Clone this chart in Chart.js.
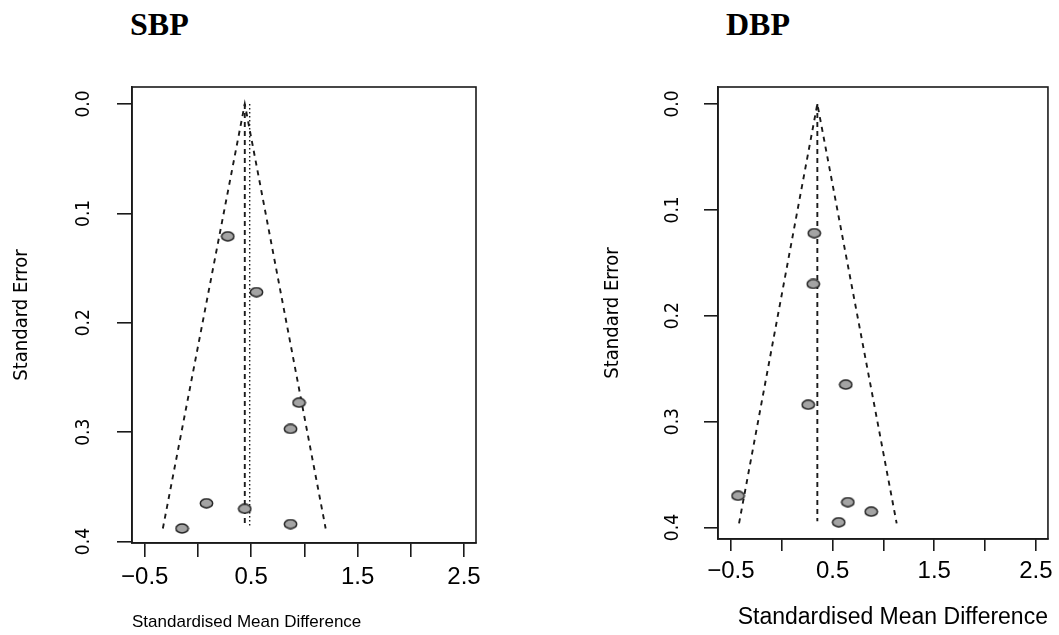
<!DOCTYPE html>
<html>
<head>
<meta charset="utf-8">
<script src="https://cdn.jsdelivr.net/npm/chart.js@4.4.1/dist/chart.umd.min.js"></script>
<style>
  html, body { margin:0; padding:0; background:#fff; }
  body { width:1059px; height:635px; position:relative; overflow:hidden; }
  canvas { position:absolute; top:0; }
  .ttl { position:absolute; font-family:'Liberation Serif','Times New Roman',serif; font-weight:bold; font-size:32px; line-height:32px; color:#000; top:8px; }
</style>
</head>
<body>
<div class="ttl" style="left:130px">SBP</div>
<div class="ttl" style="left:726px">DBP</div>
<canvas id="c1" width="500" height="635" style="left:0px"></canvas>
<canvas id="c2" width="469" height="635" style="left:590px"></canvas>
<script>
// ---- data ----
const sbpSMD = [0.28, 0.55, 0.95, 0.87, 0.08, 0.44, -0.15, 0.87];
const sbpSE  = [0.121, 0.172, 0.273, 0.297, 0.365, 0.370, 0.388, 0.384];
const sbpFunnelX = [-0.33, 0.44, 1.20];
const sbpFunnelY = [0.388, 0.0, 0.388];
const sbpFixed = 0.44;      // dashed vertical line
const sbpRandom = 0.486;    // dotted vertical line
const sbpLineEnd = 0.386;

const dbpSMD = [0.32, 0.31, 0.63, 0.26, -0.43, 0.65, 0.88, 0.56];
const dbpSE  = [0.122, 0.170, 0.265, 0.284, 0.370, 0.376, 0.385, 0.395];
const dbpFunnelX = [-0.42, 0.35, 1.13];
const dbpFunnelY = [0.396, 0.0, 0.396];
const dbpFixed = 0.35;
const dbpLineEnd = 0.394;

const xTickValues = [-0.5, 0, 0.5, 1, 1.5, 2, 2.5];
const xTickLabels = ['\u22120.5', '', '0.5', '', '1.5', '', '2.5'];
const yTickValues = [0, 0.1, 0.2, 0.3, 0.4];
const yTickLabels = ['0.0', '0.1', '0.2', '0.3', '0.4'];
const xTitle = 'Standardised Mean Difference';
const yTitle = 'Standard Error';

// ---- styling helpers ----
const NARROW = "'Liberation Sans Narrow','DejaVu Sans Condensed','Liberation Sans',sans-serif";
const REG = "'Liberation Sans',Arial,sans-serif";
const INK = '#1a1a1a';

function ellipseMarker() {
  const c = document.createElement('canvas');
  c.width = 15; c.height = 11;
  const g = c.getContext('2d');
  g.beginPath();
  g.ellipse(7.5, 5.5, 6.2, 4.4, 0, 0, Math.PI * 2);
  g.fillStyle = '#a4a4a4';
  g.fill();
  g.lineWidth = 1.5;
  g.strokeStyle = '#262626';
  g.stroke();
  return c;
}
const marker = ellipseMarker();

const boxPlugin = {
  id: 'box',
  afterDraw(chart) {
    const a = chart.chartArea, ctx = chart.ctx;
    ctx.save();
    ctx.strokeStyle = INK;
    ctx.lineWidth = 1.6;
    ctx.strokeRect(a.left, a.top, a.right - a.left, a.bottom - a.top);
    ctx.restore();
  }
};

function zipXY(xs, ys) { return xs.map((x, i) => ({ x: x, y: ys[i] })); }

function makeChart(id, p) {
  const datasets = [
    { data: zipXY(p.funnelX, p.funnelY), showLine: true, borderColor: INK, borderWidth: 1.9,
      borderDash: [5, 5], pointRadius: 0, fill: false, order: 3 },
    { data: [{ x: p.fixed, y: 0 }, { x: p.fixed, y: p.lineEnd }], showLine: true, borderColor: INK,
      borderWidth: 1.9, borderDash: [5, 4], pointRadius: 0, order: 3 }
  ];
  if (p.random !== undefined) {
    datasets.push({ data: [{ x: p.random, y: 0 }, { x: p.random, y: p.lineEnd }], showLine: true,
      borderColor: INK, borderWidth: 1.4, borderDash: [1.5, 2.5], pointRadius: 0, order: 3 });
  }
  datasets.push({ data: zipXY(p.smd, p.se), showLine: false, pointStyle: marker, pointRadius: 6, order: 1 });

  return new Chart(document.getElementById(id), {
    type: 'scatter',
    data: { datasets: datasets },
    plugins: [boxPlugin],
    options: {
      responsive: false, animation: false, devicePixelRatio: 1,
      layout: { padding: p.padding },
      plugins: { legend: { display: false }, tooltip: { enabled: false } },
      scales: {
        x: {
          type: 'linear', position: 'bottom', min: p.xMin, max: p.xMax,
          afterBuildTicks: s => { s.ticks = xTickValues.map(v => ({ value: v })); },
          afterFit: s => { s.height = p.xAxisH; },
          ticks: { autoSkip: false, maxRotation: 0, minRotation: 0, padding: p.xTickPad, color: '#000',
                   font: { family: REG, size: 24 },
                   callback: (v, i) => xTickLabels[i] },
          grid: { display: true, drawOnChartArea: false, drawTicks: true, tickLength: p.xTickLen,
                  color: INK, lineWidth: 1.6 },
          border: { display: true, color: INK, width: 1.6 },
          title: { display: true, text: xTitle, align: p.xTitleAlign, color: '#000',
                   font: { family: p.xTitleFamily, size: p.xTitleSize }, padding: { top: 0, bottom: p.xTitlePad } }
        },
        y: {
          type: 'linear', position: 'left', reverse: true, min: p.yMin, max: p.yMax,
          afterBuildTicks: s => { s.ticks = yTickValues.map(v => ({ value: v })); },
          afterFit: s => { s.width = p.yAxisW; },
          ticks: { autoSkip: false, minRotation: 90, maxRotation: 90, crossAlign: 'center',
                   padding: p.yTickPad, color: '#000', font: { family: NARROW, size: 19 },
                   callback: (v, i) => yTickLabels[i] },
          grid: { display: true, drawOnChartArea: false, drawTicks: true, tickLength: p.yTickLen,
                  color: INK, lineWidth: 1.6 },
          border: { display: true, color: INK, width: 1.6 },
          title: { display: true, text: yTitle, color: '#000', font: { family: NARROW, size: 20 },
                   padding: { top: p.yTitlePad, bottom: 0 } }
        }
      }
    }
  });
}

makeChart('c1', {
  smd: sbpSMD, se: sbpSE, funnelX: sbpFunnelX, funnelY: sbpFunnelY,
  fixed: sbpFixed, random: sbpRandom, lineEnd: sbpLineEnd,
  padding: { left: 0, top: 87, right: 24, bottom: 0 },
  xMin: -0.620, xMax: 2.613, yMin: -0.0155, yMax: 0.4013,
  xAxisH: 92, yAxisW: 132, xTickLen: 14, yTickLen: 15, xTickPad: 6, yTickPad: 19,
  xTitleAlign: 'start', xTitleFamily: REG, xTitleSize: 17, xTitlePad: 2, yTitlePad: 10
});

makeChart('c2', {
  smd: dbpSMD, se: dbpSE, funnelX: dbpFunnelX, funnelY: dbpFunnelY,
  fixed: dbpFixed, lineEnd: dbpLineEnd,
  padding: { left: 0, top: 87, right: 10, bottom: 0 },
  xMin: -0.627, xMax: 2.618, yMin: -0.016, yMax: 0.4108,
  xAxisH: 96, yAxisW: 128, xTickLen: 12, yTickLen: 14, xTickPad: 6, yTickPad: 17,
  xTitleAlign: 'end', xTitleFamily: REG, xTitleSize: 23, xTitlePad: 4, yTitlePad: 11
});
</script>
</body>
</html>
